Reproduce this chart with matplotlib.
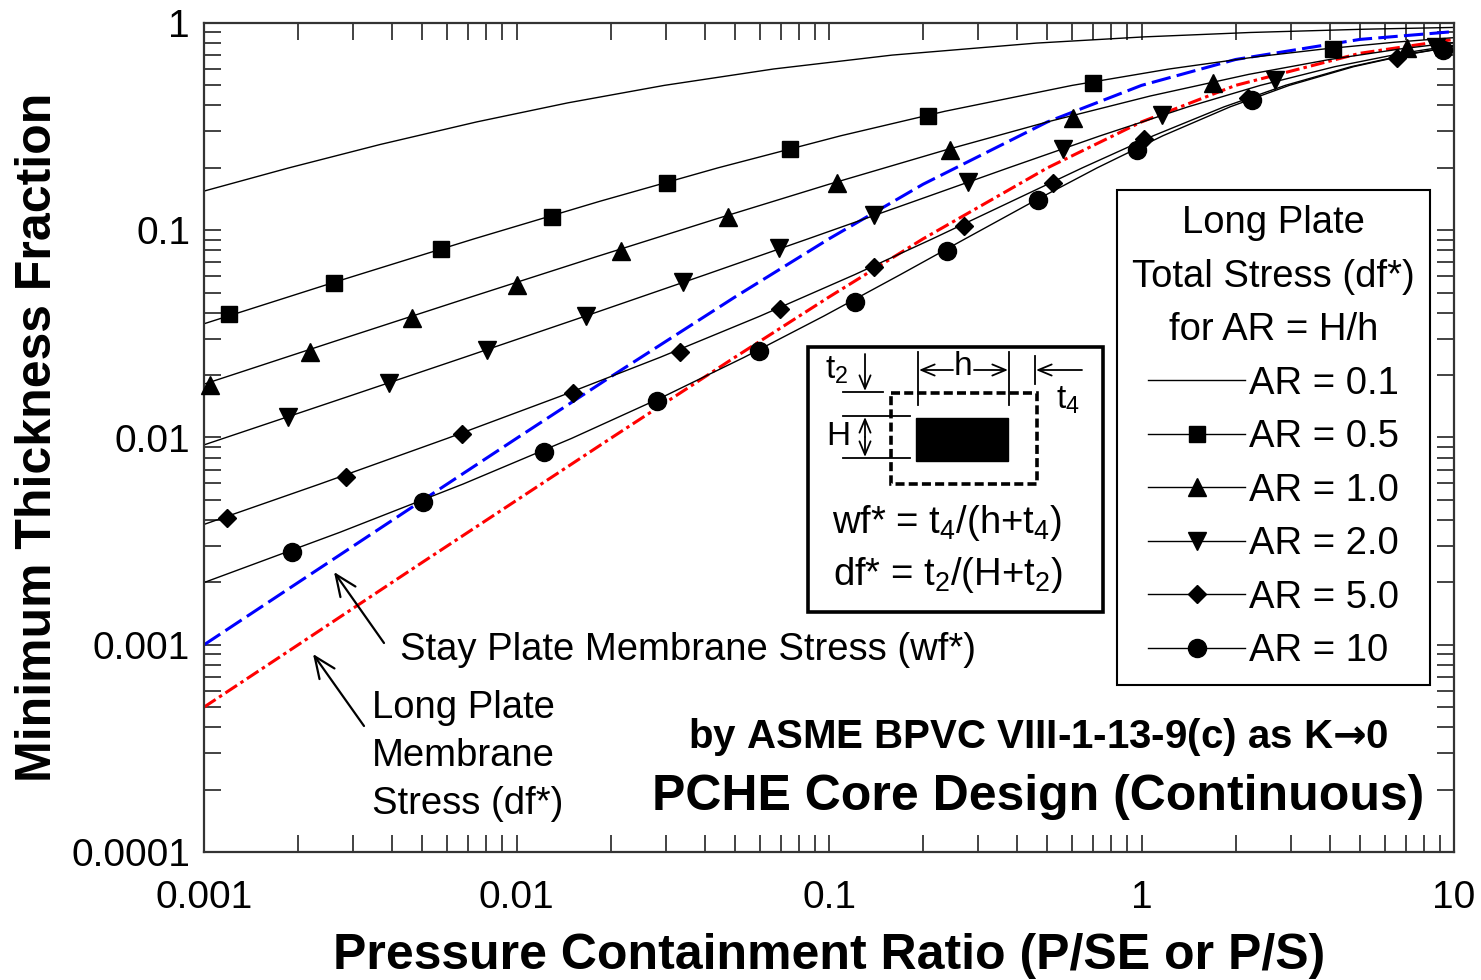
import matplotlib
matplotlib.use('Agg')
import matplotlib.pyplot as plt
from matplotlib.lines import Line2D
from matplotlib.patches import Rectangle
from matplotlib.ticker import FixedLocator, FixedFormatter, LogLocator, NullFormatter

plt.rcParams['font.family'] = ['Liberation Sans', 'DejaVu Sans']
plt.rcParams['mathtext.fontset'] = 'dejavusans'
plt.rcParams['lines.scale_dashes'] = False

# ---------------- data ----------------
# Stay plate membrane stress (wf*)
P_wf = [0.001, 0.002, 0.005, 0.01, 0.02, 0.05, 0.1, 0.2, 0.5, 1.0, 2.0, 5.0, 10.0]
wf_mem = [0.000999, 0.001996, 0.004975, 0.0099, 0.01961, 0.04762, 0.0909, 0.1667,
          0.3333, 0.5, 0.6667, 0.8333, 0.9091]
# Long plate membrane stress (df*)
P_df = [0.001, 0.002, 0.005, 0.01, 0.02, 0.05, 0.1, 0.2, 0.5, 1.0, 2.0, 5.0, 10.0]
df_mem = [0.0005, 0.000999, 0.0025, 0.004975, 0.0099, 0.02439, 0.04762, 0.0909,
          0.2, 0.3333, 0.5, 0.7143, 0.8333]

# Long plate total stress curves (lines)
AR01_P = [0.001, 0.00187, 0.003662, 0.007463, 0.014598, 0.029703, 0.066502, 0.15916,
          0.4615, 1.0189, 2.2294, 5.158, 10.0]
AR01_df = [0.1545, 0.2, 0.2593, 0.3333, 0.4118, 0.5, 0.6, 0.7, 0.8, 0.857, 0.9, 0.9333, 0.952]

AR05_P = [0.001, 0.00266, 0.007317, 0.018462, 0.044118, 0.10909, 0.23478, 0.6, 1.2273,
          2.3419, 3.857, 6.4537, 10.0]
AR05_df = [0.03538, 0.0566, 0.0909, 0.1379, 0.2, 0.2857, 0.375, 0.5, 0.6, 0.6875, 0.75,
           0.8077, 0.850]

AR1_P = [0.001, 0.002621, 0.007143, 0.017778, 0.044867, 0.1, 0.23273, 0.5, 1.0667,
         2.2043, 4.0, 6.75, 10.0]
AR1_df = [0.01809, 0.02913, 0.04762, 0.07407, 0.1150, 0.1667, 0.2424, 0.3333, 0.4444,
          0.5652, 0.6667, 0.75, 0.8054]

AR2_P = [0.001, 0.002887, 0.006818, 0.016552, 0.040238, 0.085714, 0.18732, 0.375,
         0.73846, 1.4083, 2.4, 4.1514, 6.818, 10.0]
AR2_df = [0.009211, 0.01575, 0.02439, 0.03846, 0.06103, 0.0909, 0.1379, 0.2, 0.2857,
          0.3939, 0.5, 0.6154, 0.7143, 0.781]

AR5_P = [0.001, 0.002348, 0.006, 0.013714, 0.028846, 0.06, 0.12071, 0.21429, 0.384,
         0.64655, 1.0909, 1.837, 2.8846, 4.6829, 7.382, 10.0]
AR5_df = [0.003807, 0.005964, 0.0099, 0.01575, 0.02439, 0.03846, 0.06103, 0.0909, 0.1379,
          0.2, 0.2857, 0.3939, 0.5, 0.6154, 0.7143, 0.7713]

AR10_P = [0.001, 0.002722, 0.00675, 0.015, 0.029538, 0.053571, 0.096, 0.169, 0.27273,
          0.45176, 0.72115, 1.1707, 1.9205, 2.9703, 4.7702, 7.4701, 10.0]
AR10_df = [0.001996, 0.003488, 0.005964, 0.0099, 0.01575, 0.02439, 0.03846, 0.06103,
           0.0909, 0.1379, 0.2, 0.2857, 0.3939, 0.5, 0.6154, 0.7143, 0.7697]

# marker points
sq_P = [0.00120, 0.00261, 0.00573, 0.0130, 0.0303, 0.0750, 0.207, 0.700, 4.10]
sq_df = [0.0394, 0.0557, 0.0813, 0.116, 0.169, 0.247, 0.356, 0.513, 0.749]
tri_P = [0.001045, 0.002183, 0.00463, 0.01005, 0.0216, 0.0475, 0.1061, 0.2438, 0.604, 1.693, 7.07]
tri_df = [0.01792, 0.02586, 0.03773, 0.05442, 0.07941, 0.1158, 0.169, 0.2438, 0.348, 0.5135, 0.7574]
tdn_P = [0.001857, 0.003908, 0.008045, 0.01669, 0.03409, 0.06918, 0.1393, 0.2785, 0.5609,
         1.163, 2.675, 8.76]
tdn_df = [0.01256, 0.01832, 0.02644, 0.03859, 0.05627, 0.08212, 0.1185, 0.1709, 0.2466,
          0.3598, 0.5309, 0.766]
dia_P = [0.001184, 0.002847, 0.006692, 0.01517, 0.03335, 0.06968, 0.1393, 0.2704, 0.5209,
         1.019, 2.19, 6.57]
dia_df = [0.004088, 0.006448, 0.0104, 0.01639, 0.02586, 0.04169, 0.06648, 0.1048, 0.169,
          0.2756, 0.4346, 0.678]
cir_P = [0.00191, 0.00502, 0.01225, 0.0282, 0.0597, 0.1211, 0.239, 0.467, 0.967, 2.26, 9.22]
cir_df = [0.0028, 0.00489, 0.00851, 0.015, 0.0261, 0.0451, 0.0794, 0.140, 0.244, 0.425, 0.741]

legend_labels = ['AR = 0.1', 'AR = 0.5', 'AR = 1.0', 'AR = 2.0', 'AR = 5.0', 'AR = 10']
x_ticks = [0.001, 0.01, 0.1, 1, 10]
x_ticklabels = ['0.001', '0.01', '0.1', '1', '10']
y_ticks = [0.0001, 0.001, 0.01, 0.1, 1]
y_ticklabels = ['0.0001', '0.001', '0.01', '0.1', '1']

# ---------------- figure ----------------
W, H = 1481, 980
fig = plt.figure(figsize=(W / 100, H / 100), dpi=100)
ax = fig.add_axes([204 / W, 1 - 852 / H, 1250 / W, 829 / H])
ax.set_xscale('log')
ax.set_yscale('log')
ax.set_xlim(1e-3, 10)
ax.set_ylim(1e-4, 1)

ax.xaxis.set_major_locator(FixedLocator(x_ticks))
ax.xaxis.set_major_formatter(FixedFormatter(x_ticklabels))
ax.yaxis.set_major_locator(FixedLocator(y_ticks))
ax.yaxis.set_major_formatter(FixedFormatter(y_ticklabels))
ax.xaxis.set_minor_locator(LogLocator(base=10, subs=range(2, 10), numticks=20))
ax.yaxis.set_minor_locator(LogLocator(base=10, subs=range(2, 10), numticks=20))
ax.xaxis.set_minor_formatter(NullFormatter())
ax.yaxis.set_minor_formatter(NullFormatter())
ax.tick_params(which='both', direction='in', top=True, right=True, length=12, width=1.2,
               color='#222222')
ax.tick_params(axis='x', which='major', labelsize=28, pad=20)
ax.tick_params(axis='y', which='major', labelsize=28, pad=10)
for s in ax.spines.values():
    s.set_linewidth(1.6)
    s.set_color('#333333')

# membrane curves
ax.plot(P_wf, wf_mem, color='#0000ff', lw=2.2, dashes=(14, 4.5), zorder=2)
ax.plot(P_df, df_mem, color='#ff0000', lw=2.2, dashes=(10, 3, 2.5, 3), zorder=2)

# total stress curves
lk = dict(color='k', lw=1.0, zorder=2.5)
ax.plot(AR01_P, AR01_df, **lk)
ax.plot(AR05_P, AR05_df, **lk)
ax.plot(AR1_P, AR1_df, **lk)
ax.plot(AR2_P, AR2_df, **lk)
ax.plot(AR5_P, AR5_df, **lk)
ax.plot(AR10_P, AR10_df, **lk)

msz = {'s': 11, '^': 13, 'v': 13, 'D': 9.5, 'o': 13}
mk = dict(ls='none', color='k', mec='k', zorder=3, clip_on=False)
ax.plot(sq_P, sq_df, marker='s', ms=msz['s'], **mk)
ax.plot(tri_P, tri_df, marker='^', ms=msz['^'], **mk)
ax.plot(tdn_P, tdn_df, marker='v', ms=msz['v'], **mk)
ax.plot(dia_P, dia_df, marker='D', ms=msz['D'], **mk)
ax.plot(cir_P, cir_df, marker='o', ms=msz['o'], **mk)

ax.set_xlabel('Pressure Containment Ratio (P/SE or P/S)', fontsize=36, fontweight='bold',
              va='center')
ax.xaxis.set_label_coords(0.5, (852 - 956) / 829)
ax.set_ylabel('Minimum Thickness Fraction', fontsize=36, fontweight='bold', va='center')
ax.yaxis.set_label_coords((38 - 204) / 1250, 0.5)

# legend
handles = [Line2D([], [], color='k', lw=1.0)]
for m in ['s', '^', 'v', 'D', 'o']:
    handles.append(Line2D([], [], color='k', lw=1.0, marker=m, ms=msz[m], mfc='k', mec='k'))
leg = ax.legend(handles, legend_labels, title='Long Plate\nTotal Stress (df*)\nfor AR = H/h',
                loc='upper left', bbox_to_anchor=((1117 - 204) / 1250, (852 - 190) / 829),
                borderaxespad=0, fontsize=27.5, title_fontsize=27.5, frameon=True,
                fancybox=False, edgecolor='k', framealpha=1, handlelength=2.55,
                handletextpad=0.1, labelspacing=0.46, borderpad=0.4, numpoints=1)
leg.get_frame().set_linewidth(1.5)
leg.get_title().set_multialignment('center')
leg.get_title().set_linespacing(1.62)
leg.set_zorder(5)

# ---------------- overlay in pixel coordinates ----------------
ov = fig.add_axes([0, 0, 1, 1], facecolor='none')
ov.set_xlim(0, W)
ov.set_ylim(H, 0)
ov.axis('off')

fs = 27.5
ov.text(400, 650, 'Stay Plate Membrane Stress (wf*)', fontsize=fs, ha='left', va='center')
ov.text(372, 756, 'Long Plate\nMembrane\nStress (df*)', fontsize=fs, ha='left', va='center',
        linespacing=1.42)
arw = dict(arrowstyle='->,head_length=0.7,head_width=0.3', color='k', lw=1.6,
           mutation_scale=22, shrinkA=0, shrinkB=0)
ov.annotate('', xy=(334, 572), xytext=(384, 643), arrowprops=arw)
ov.annotate('', xy=(313, 654), xytext=(364, 726), arrowprops=arw)

ov.text(1038, 737, 'by ASME BPVC VIII-1-13-9(c) as K$\\mathbf{\u2192}$0', fontsize=29,
        fontweight='bold', ha='center', va='center')
ov.text(1038, 797, 'PCHE Core Design (Continuous)', fontsize=36, fontweight='bold',
        ha='center', va='center')

# inset schematic
ov.add_patch(Rectangle((808, 347), 295, 265, fill=False, lw=2.6, ec='k', zorder=4))
ov.add_patch(Rectangle((808, 347), 295, 265, fill=True, fc='white', ec='none', zorder=3.9))
ov.add_patch(Rectangle((891, 393), 146, 91, fill=False, lw=2.6, ec='k',
                       linestyle=(0, (6.5, 3)), zorder=4))
ov.add_patch(Rectangle((916, 418), 92, 43, fc='k', ec='k', zorder=4))
lkw = dict(color='k', lw=1.3, zorder=4)
sarw = dict(arrowstyle='->,head_length=0.6,head_width=0.25', color='k', lw=1.3,
            mutation_scale=16, shrinkA=0, shrinkB=0)
# t2
ov.plot([843, 883], [392, 392], **lkw)
ov.annotate('', xy=(865, 391), xytext=(865, 354), arrowprops=sarw, zorder=4)
ov.text(837, 370, 't$\\mathregular{_2}$', fontsize=24, ha='center', va='center', zorder=4)
# H
ov.plot([843, 910], [416, 416], **lkw)
ov.plot([843, 910], [458, 458], **lkw)
ov.annotate('', xy=(865, 417), xytext=(865, 437), arrowprops=sarw, zorder=4)
ov.annotate('', xy=(865, 457), xytext=(865, 437), arrowprops=sarw, zorder=4)
ov.text(838, 436, 'H', fontsize=24, ha='center', va='center', zorder=4)
# h
ov.plot([918, 918], [352, 405], **lkw)
ov.plot([1009, 1009], [352, 405], **lkw)
ov.annotate('', xy=(919, 370), xytext=(953, 370), arrowprops=sarw, zorder=4)
ov.annotate('', xy=(1008, 370), xytext=(974, 370), arrowprops=sarw, zorder=4)
ov.text(963, 366, 'h', fontsize=24, ha='center', va='center', zorder=4)
# t4
ov.plot([1035, 1035], [356, 384], **lkw)
ov.annotate('', xy=(1036, 370), xytext=(1082, 370), arrowprops=sarw, zorder=4)
ov.text(1068, 400, 't$\\mathregular{_4}$', fontsize=24, ha='center', va='center', zorder=4)
# formulas
ov.text(947, 523, 'wf* = t$\\mathregular{_4}$/(h+t$\\mathregular{_4}$)', fontsize=fs,
        ha='center', va='center', zorder=4)
ov.text(948, 575, 'df* = t$\\mathregular{_2}$/(H+t$\\mathregular{_2}$)', fontsize=fs,
        ha='center', va='center', zorder=4)

fig.savefig('out.png', dpi=100)
